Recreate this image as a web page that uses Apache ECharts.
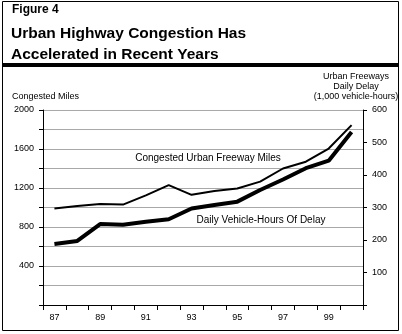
<!DOCTYPE html>
<html>
<head>
<meta charset="utf-8">
<script src="https://cdn.jsdelivr.net/npm/echarts@6/dist/echarts.min.js"></script>
<style>
  html, body { margin: 0; padding: 0; background: #fff; }
  #chart { width: 402px; height: 334px; }
</style>
</head>
<body>
<div id="chart"></div>
<script>
// Years shown on the horizontal axis (two-digit)
var years = ['87', '88', '89', '90', '91', '92', '93', '94', '95', '96', '97', '98', '99', '00'];
// Congested urban freeway miles (left axis)
var congestedMiles = [990, 1015, 1035, 1030, 1125, 1230, 1130, 1170, 1195, 1265, 1400, 1470, 1605, 1845];
// Daily vehicle-hours of delay, thousands (right axis)
var delayHours = [188, 197, 249, 247, 256, 264, 297, 308, 318, 354, 386, 421, 444, 532];

var FONT = '"Liberation Sans", Arial, Helvetica, sans-serif';
var GRID = '#a8a8a8';

var chart = echarts.init(document.getElementById('chart'), null, { renderer: 'canvas' });

function txt(text, x, y, size, weight, align) {
  return {
    type: 'text', x: x, y: y, silent: true,
    style: {
      text: text, fill: '#000', font: (weight || 'normal') + ' ' + size + 'px ' + FONT,
      textAlign: align || 'left', textVerticalAlign: 'middle'
    }
  };
}

chart.setOption({
  backgroundColor: '#fff',
  animation: false,
  textStyle: { fontFamily: FONT },
  grid: { left: 43, right: 39, top: 110, bottom: 29, containLabel: false },
  xAxis: {
    type: 'category',
    data: years,
    boundaryGap: true,
    axisLine: { lineStyle: { color: '#000', width: 1 } },
    axisTick: { show: true, interval: 0, length: 5, lineStyle: { color: '#000' } },
    axisLabel: { interval: 1, margin: 8, color: '#000', fontSize: 9, fontFamily: FONT },
    splitLine: { show: false }
  },
  yAxis: [
    {
      type: 'value', min: 0, max: 2000, interval: 400, position: 'left',
      axisLine: { show: true, lineStyle: { color: '#000', width: 1 } },
      axisTick: { show: true, length: 4, lineStyle: { color: '#000' } },
      minorTick: { show: true, splitNumber: 2, length: 4, lineStyle: { color: '#000' } },
      axisLabel: {
        margin: 9, color: '#000', fontSize: 9, fontFamily: FONT,
        formatter: function (v) { return v === 0 ? '' : String(v); }
      },
      splitLine: { show: true, lineStyle: { color: GRID, width: 1 } },
      minorSplitLine: { show: true, lineStyle: { color: GRID, width: 1 } }
    },
    {
      type: 'value', min: 0, max: 600, interval: 100, position: 'right',
      axisLine: { show: true, lineStyle: { color: '#000', width: 1 } },
      axisTick: { show: true, length: 4, lineStyle: { color: '#000' } },
      axisLabel: {
        margin: 9, color: '#000', fontSize: 9, fontFamily: FONT,
        formatter: function (v) { return v === 0 ? '' : String(v); }
      },
      splitLine: { show: false }
    }
  ],
  series: [
    {
      name: 'Congested Urban Freeway Miles',
      type: 'line', yAxisIndex: 0, data: congestedMiles,
      symbol: 'none', lineStyle: { color: '#000', width: 2 }, z: 3
    },
    {
      name: 'Daily Vehicle-Hours Of Delay',
      type: 'line', yAxisIndex: 1, data: delayHours,
      symbol: 'none', lineStyle: { color: '#000', width: 4 }, z: 4
    }
  ],
  graphic: [
    // outer frame and heavy rule under the heading
    { type: 'rect', silent: true, shape: { x: 2.5, y: 1.5, width: 396, height: 329 },
      style: { fill: null, stroke: '#000', lineWidth: 1 } },
    { type: 'rect', silent: true, shape: { x: 2, y: 63, width: 397, height: 4 },
      style: { fill: '#000' } },
    txt('Figure 4', 12, 10, 12, 'bold'),
    txt('Urban Highway Congestion Has', 11, 34, 15.5, 'bold'),
    txt('Accelerated in Recent Years', 11, 55, 15.5, 'bold'),
    // axis names
    txt('Congested Miles', 12, 97, 9),
    txt('Urban Freeways', 356, 77, 9, 'normal', 'center'),
    txt('Daily Delay', 356, 87, 9, 'normal', 'center'),
    txt('(1,000 vehicle-hours)', 356, 97, 9, 'normal', 'center'),
    // series annotations
    txt('Congested Urban Freeway Miles', 208, 158, 10, 'normal', 'center'),
    txt('Daily Vehicle-Hours Of Delay', 261, 220, 10, 'normal', 'center')
  ]
});
</script>
</body>
</html>
